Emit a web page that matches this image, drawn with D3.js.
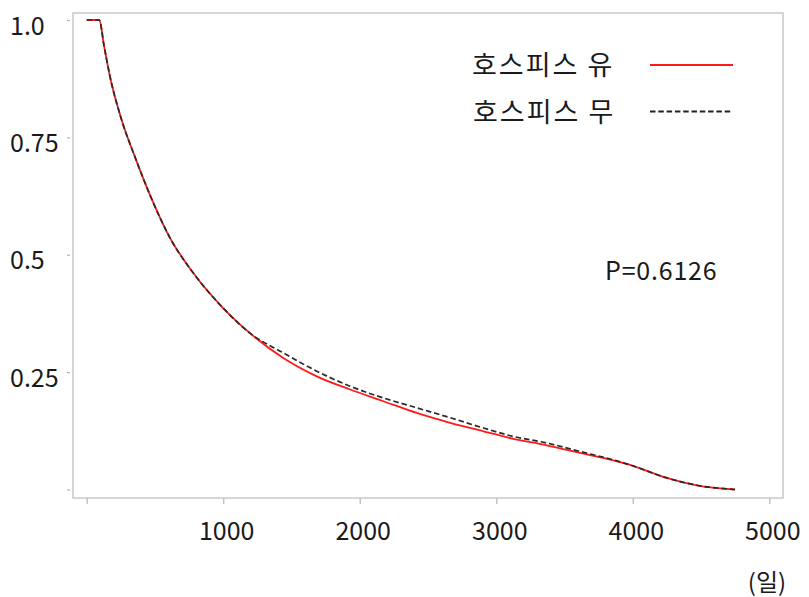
<!DOCTYPE html>
<html>
<head>
<meta charset="utf-8">
<script src="https://cdn.jsdelivr.net/npm/d3@7"></script>
<style>
  html, body { margin: 0; padding: 0; background: #fff; }
  svg { display: block; }
  text { font-family: "Noto Sans CJK KR", "Noto Sans", sans-serif; fill: #1a1a1a; }
</style>
</head>
<body>
<svg id="chart" width="809" height="597"></svg>
<script>
// Survival by hospice use (days since diagnosis)
const days = [0, 92, 127, 171, 256, 354, 464, 610, 781, 1001, 1196, 1440, 1685, 1929, 2173, 2417, 2662, 2906, 3125, 3370, 3614, 3858, 4005, 4224, 4469, 4749];
const hospiceYes = [1, 1, 0.945, 0.879, 0.787, 0.708, 0.627, 0.536, 0.461, 0.386, 0.333, 0.280, 0.241, 0.213, 0.188, 0.163, 0.142, 0.124, 0.108, 0.094, 0.078, 0.062, 0.050, 0.027, 0.009, 0.0];
const hospiceNo  = [1, 1, 0.945, 0.879, 0.787, 0.708, 0.627, 0.536, 0.461, 0.386, 0.333, 0.291, 0.252, 0.220, 0.195, 0.174, 0.153, 0.131, 0.113, 0.099, 0.081, 0.063, 0.050, 0.027, 0.009, 0.0];

const seriesNames = ["호스피스 유", "호스피스 무"];
const xTicks = [0, 1000, 2000, 3000, 4000, 5000];
const xTickLabels = ["", "1000", "2000", "3000", "4000", "5000"];
const yTicks = [0, 0.25, 0.5, 0.75, 1];
const yTickLabels = ["", "0.25", "0.5", "0.75", "1.0"];
const pValueText = "P=0.6126";
const xUnit = "(일)";

const svg = d3.select("#chart");
const frame = { left: 73, top: 13, right: 783, bottom: 498 };

const x = d3.scaleLinear().domain([0, 5000]).range([86.7, 769.3]);
const y = d3.scaleLinear().domain([0, 1]).range([489.5, 20]);

// plot frame
svg.append("rect")
  .attr("x", frame.left).attr("y", frame.top)
  .attr("width", frame.right - frame.left)
  .attr("height", frame.bottom - frame.top)
  .attr("fill", "none").attr("stroke", "#c9c9c9").attr("stroke-width", 1.5);

// x axis
const gx = svg.append("g").attr("transform", `translate(0,${frame.bottom})`)
  .call(d3.axisBottom(x).tickValues(xTicks).tickSize(6)
    .tickFormat((d, i) => xTickLabels[i]));
gx.select(".domain").remove();
gx.selectAll(".tick line").attr("stroke", "#c4c4c4").attr("stroke-width", 1.5);
gx.selectAll(".tick text")
  .attr("y", 42).attr("dy", null).attr("dx", 3)
  .style("font-size", "25px").attr("fill", "#1a1a1a");

// y axis (small detached ticks, labels at the far left)
const gy = svg.append("g").attr("transform", "translate(70,0)")
  .call(d3.axisLeft(y).tickValues(yTicks).tickSize(3)
    .tickFormat((d, i) => yTickLabels[i]));
gy.select(".domain").remove();
gy.selectAll(".tick line").attr("stroke", "#b5b5b5").attr("stroke-width", 1.2);
gy.selectAll(".tick text")
  .attr("x", -60).attr("dy", 14).attr("text-anchor", "start")
  .style("font-size", "25px").attr("fill", "#1a1a1a");

// survival curves
const line = d3.line()
  .x(d => x(d[0]))
  .y(d => y(d[1]))
  .curve(d3.curveMonotoneX);

svg.append("path")
  .datum(days.map((d, i) => [d, hospiceYes[i]]))
  .attr("d", line)
  .attr("fill", "none").attr("stroke", "#ff1a1a").attr("stroke-width", 1.8);

svg.append("path")
  .datum(days.map((d, i) => [d, hospiceNo[i]]))
  .attr("d", line)
  .attr("fill", "none").attr("stroke", "#2a2a2a").attr("stroke-width", 1.7)
  .attr("stroke-dasharray", "5.5,3");

// legend
const legend = svg.append("g");
legend.append("text").attr("x", 472).attr("y", 75)
  .style("font-size", "27px").style("letter-spacing", "2px").text(seriesNames[0]);
legend.append("line").attr("x1", 650).attr("x2", 733).attr("y1", 65).attr("y2", 65)
  .attr("stroke", "#ff1a1a").attr("stroke-width", 2.2);
legend.append("text").attr("x", 473).attr("y", 122)
  .style("font-size", "27px").style("letter-spacing", "2px").text(seriesNames[1]);
legend.append("line").attr("x1", 650).attr("x2", 733).attr("y1", 111.5).attr("y2", 111.5)
  .attr("stroke", "#222").attr("stroke-width", 1.8).attr("stroke-dasharray", "5.5,2.8");

// p-value annotation
svg.append("text").attr("x", 605).attr("y", 280)
  .style("font-size", "25px").style("letter-spacing", "0.8px").text(pValueText);

// x unit
svg.append("text").attr("x", 767).attr("y", 591).attr("text-anchor", "middle")
  .style("font-size", "24px").text(xUnit);
</script>
</body>
</html>
